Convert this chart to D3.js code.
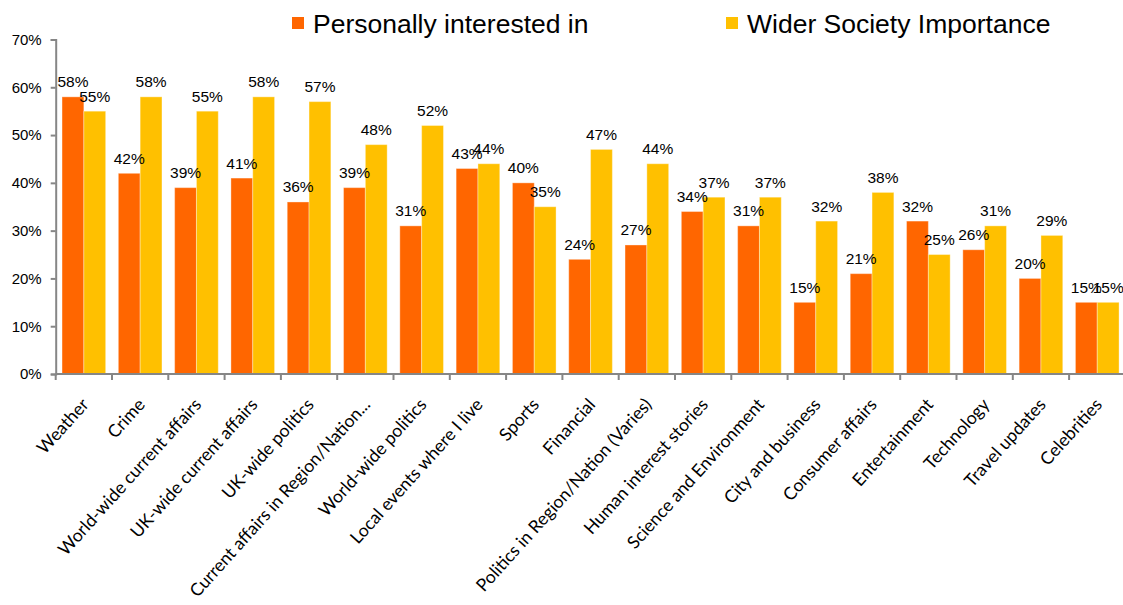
<!DOCTYPE html>
<html>
<head>
<meta charset="utf-8">
<script src="https://cdn.jsdelivr.net/npm/d3@7"></script>
<style>
  html, body { margin: 0; padding: 0; background: #fff; }
  svg { display: block; }
</style>
</head>
<body>
<svg id="chart" width="1123" height="605"></svg>
<script>
// Topics and the share of respondents for each measure
const categories = [
  "Weather", "Crime", "World-wide current affairs", "UK-wide current affairs",
  "UK-wide politics", "Current affairs in Region/Nation...", "World-wide politics",
  "Local events where I live", "Sports", "Financial", "Politics in Region/Nation (Varies)",
  "Human interest stories", "Science and Environment", "City and business",
  "Consumer affairs", "Entertainment", "Technology", "Travel updates", "Celebrities"
];
const personallyInterested = [58, 42, 39, 41, 36, 39, 31, 43, 40, 24, 27, 34, 31, 15, 21, 32, 26, 20, 15];
const widerSociety = [55, 58, 55, 58, 57, 48, 52, 44, 35, 47, 44, 37, 37, 32, 38, 25, 31, 29, 15];
const seriesNames = ["Personally interested in", "Wider Society Importance"];
const yTicks = [0, 10, 20, 30, 40, 50, 60, 70];

const colors = ["#FF6600", "#FFC000"];
const svg = d3.select("#chart");

const plot = { left: 55.7, right: 1125.4, top: 39.5, bottom: 374 };

const x = d3.scaleBand()
  .domain(categories)
  .range([plot.left, plot.right])
  .paddingInner(0.225)
  .paddingOuter(0.1125);

const xStep = d3.scaleBand()
  .domain(categories)
  .range([plot.left, plot.right])
  .padding(0);

const xSub = d3.scaleBand()
  .domain(seriesNames)
  .range([0, x.bandwidth()]);

const y = d3.scaleLinear().domain([0, 70]).range([plot.bottom, plot.top]);

const series = [personallyInterested, widerSociety];

// Bars
series.forEach((vals, si) => {
  const g = svg.append("g");
  g.selectAll("rect")
    .data(categories)
    .join("rect")
    .attr("x", (c) => x(c) + xSub(seriesNames[si]))
    .attr("y", (c, i) => y(vals[i]))
    .attr("width", xSub.bandwidth())
    .attr("height", (c, i) => y(0) - y(vals[i]))
    .attr("fill", colors[si])
    .attr("stroke", "#ffffff")
    .attr("stroke-opacity", 0.35)
    .attr("stroke-width", 1);
});

// Value labels
series.forEach((vals, si) => {
  svg.append("g").selectAll("text")
    .data(categories)
    .join("text")
    .attr("x", (c) => x(c) + xSub(seriesNames[si]) + xSub.bandwidth() / 2)
    .attr("y", (c, i) => y(vals[i]) - 9.5)
    .attr("text-anchor", "middle")
    .attr("font-family", "'Liberation Sans', Arial, sans-serif")
    .attr("font-size", "15.5px")
    .attr("fill", "#000")
    .text((c, i) => vals[i] + "%");
});

// Y axis
const yAxis = d3.axisLeft(y)
  .tickValues(yTicks)
  .tickFormat((d) => d + "%")
  .tickSize(5)
  .tickPadding(9);
const yg = svg.append("g")
  .attr("transform", `translate(${plot.left},0)`)
  .call(yAxis);
yg.select(".domain").attr("stroke", "#868686").attr("stroke-width", 2);
yg.selectAll(".tick line").attr("stroke", "#868686").attr("stroke-width", 2);
yg.selectAll(".tick text")
  .attr("font-family", "'Liberation Sans', Arial, sans-serif")
  .attr("font-size", "15px")
  .attr("fill", "#000");

// X axis (tick marks at category boundaries)
const xg = svg.append("g").attr("transform", `translate(0,${plot.bottom})`);
xg.append("line")
  .attr("x1", plot.left).attr("x2", plot.right)
  .attr("stroke", "#868686").attr("stroke-width", 2);
xg.selectAll("line.tk")
  .data(categories)
  .join("line")
  .attr("class", "tk")
  .attr("x1", (c) => xStep(c)).attr("x2", (c) => xStep(c))
  .attr("y1", 0).attr("y2", 6)
  .attr("stroke", "#868686").attr("stroke-width", 2);

// Rotated category labels
svg.append("g").selectAll("text")
  .data(categories)
  .join("text")
  .attr("transform", (c) => `translate(${x(c) + x.bandwidth() / 2 + 1},${plot.bottom + 27}) rotate(-48)`)
  .attr("text-anchor", "end")
  .attr("dominant-baseline", "central")
  .attr("font-family", "Lato, 'Open Sans', sans-serif")
  .attr("font-size", "17.6px")
  .attr("fill", "#000")
  .text((c) => c);

// Legend
const legendPos = [292, 726];
seriesNames.forEach((name, i) => {
  const lg = svg.append("g").attr("transform", `translate(${legendPos[i]},0)`);
  lg.append("rect")
    .attr("x", 0).attr("y", 17)
    .attr("width", 12).attr("height", 12)
    .attr("fill", colors[i]);
  lg.append("text")
    .attr("x", 21).attr("y", 33)
    .attr("font-family", "'Liberation Sans', Arial, sans-serif")
    .attr("font-size", "26.5px")
    .attr("fill", "#000")
    .text(name);
});
</script>
</body>
</html>
